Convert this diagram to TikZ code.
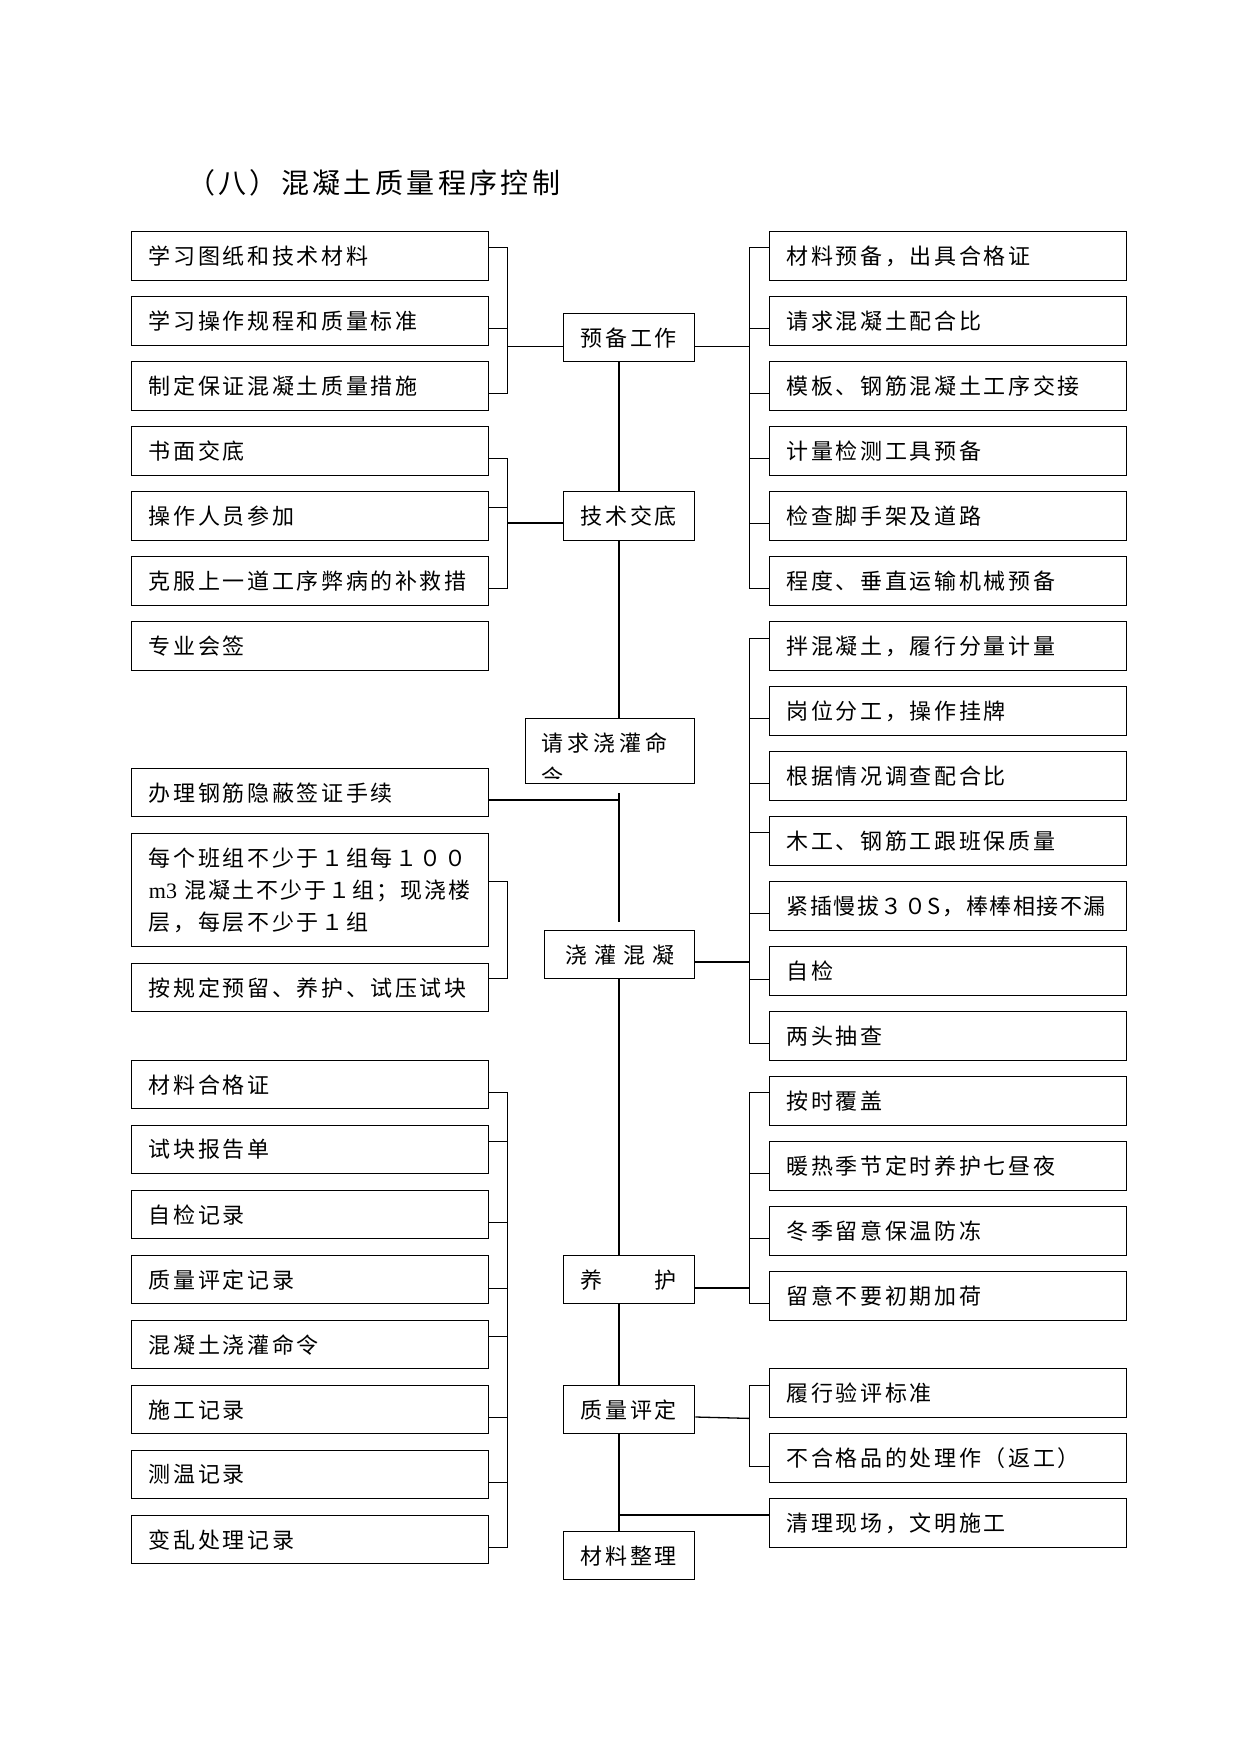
\documentclass[tikz,border=0pt]{standalone}
\usepackage{fontspec}
\setmainfont{Liberation Serif}
\newfontfamily\cjk[LetterSpace=12]{Noto Sans CJK SC}
\newfontfamily\lat{Liberation Serif}
\usetikzlibrary{calc}
\begin{document}
\begin{tikzpicture}[x=1pt,y=-1pt,
  box/.style={draw, line width=1.4pt, inner sep=0pt, anchor=north west, minimum height=49pt, font=\cjk\fontsize{22}{26}\selectfont},
  lbox/.style={box, minimum width=356.5pt, text width=322pt, align=left},
  rbox/.style={box, minimum width=357pt, text width=322pt, align=left},
  cbox/.style={box, minimum width=131.5pt, minimum height=48pt, align=center},
  link/.style={line width=1.3pt},
  tick/.style={line width=1pt}]
\fill[white] (0,0) rectangle (1241,1754);
\useasboundingbox (0,0) rectangle (1241,1754);

\node[anchor=west, inner sep=0pt, font=\cjk\fontsize{28}{32}\selectfont] (title) at (187,183) {（八）混凝土质量程序控制};

% left column
\node[lbox] (l1) at (131,231) {学习图纸和技术材料};
\node[lbox] (l2) at (131,296) {学习操作规程和质量标准};
\node[lbox] (l3) at (131,361) {制定保证混凝土质量措施};
\node[lbox] (l4) at (131,426) {书面交底};
\node[lbox] (l5) at (131,491) {操作人员参加};
\node[lbox] (l6) at (131,556) {克服上一道工序弊病的补救措};
\node[lbox] (l7) at (131,621) {专业会签};
\node[lbox, minimum height=48pt] (l8) at (131,768) {办理钢筋隐蔽签证手续};
\node[lbox, minimum height=113pt, font=\cjk\fontsize{22}{32}\selectfont] (l9) at (131,833) {\mbox{每个班组不少于１组每１００}\\\mbox{{\lat m3} {\addfontfeature{LetterSpace=9}混凝土不少于１组；现浇楼}}\\\mbox{层，每层不少于１组}};
\node[lbox, minimum height=48pt] (l10) at (131,963) {按规定预留、养护、试压试块};
\node[lbox, minimum height=48pt] (l11) at (131,1060) {材料合格证};
\node[lbox, minimum height=48pt] (l12) at (131,1125) {试块报告单};
\node[lbox, minimum height=48pt] (l13) at (131,1190) {自检记录};
\node[lbox, minimum height=48pt] (l14) at (131,1255) {质量评定记录};
\node[lbox, minimum height=48pt] (l15) at (131,1320) {混凝土浇灌命令};
\node[lbox, minimum height=48pt] (l16) at (131,1385) {施工记录};
\node[lbox, minimum height=48pt] (l17) at (131,1450) {测温记录};
\node[lbox, minimum height=48pt] (l18) at (131,1515) {变乱处理记录};

% right column
\node[rbox] (r1) at (768.5,231) {材料预备，出具合格证};
\node[rbox] (r2) at (768.5,296) {请求混凝土配合比};
\node[rbox] (r3) at (768.5,361) {模板、钢筋混凝土工序交接};
\node[rbox] (r4) at (768.5,426) {计量检测工具预备};
\node[rbox] (r5) at (768.5,491) {检查脚手架及道路};
\node[rbox] (r6) at (768.5,556) {程度、垂直运输机械预备};
\node[rbox] (r7) at (768.5,621) {拌混凝土，履行分量计量};
\node[rbox] (r8) at (768.5,686) {岗位分工，操作挂牌};
\node[rbox] (r9) at (768.5,751) {根据情况调查配合比};
\node[rbox] (r10) at (768.5,816) {木工、钢筋工跟班保质量};
\node[rbox, font=\cjk\fontsize{22}{26}\selectfont\addfontfeature{LetterSpace=7}] (r11) at (768.5,881) {\mbox{紧插慢拔３０S，棒棒相接不漏}};
\node[rbox] (r12) at (768.5,946) {自检};
\node[rbox] (r13) at (768.5,1011) {两头抽查};
\node[rbox] (r14) at (768.5,1076) {按时覆盖};
\node[rbox] (r15) at (768.5,1141) {暖热季节定时养护七昼夜};
\node[rbox] (r16) at (768.5,1206) {冬季留意保温防冻};
\node[rbox] (r17) at (768.5,1271) {留意不要初期加荷};
\node[rbox] (r18) at (768.5,1368) {履行验评标准};
\node[rbox] (r19) at (768.5,1433) {不合格品的处理作（返工）};
\node[rbox] (r20) at (768.5,1498) {清理现场，文明施工};

% centre column
\node[cbox] (c1) at (562.5,313) {预备工作};
\node[cbox, minimum height=49pt] (c2) at (562.5,491) {技术交底};
\node[box, minimum width=169pt, minimum height=65pt] (c3) at (525,718) {};
\node[anchor=west, inner sep=0pt, font=\cjk\fontsize{22}{26}\selectfont] (c3a) at (541,743) {请\hspace{4pt}求\hspace{4pt}浇\hspace{4pt}灌\hspace{4pt}命};
\begin{scope}
\clip (526,719) rectangle (693,778);
\node[anchor=west, inner sep=0pt, font=\cjk\fontsize{22}{26}\selectfont] (c3b) at (541,777) {令};
\end{scope}
\node[box, minimum width=150pt, minimum height=48pt, align=center] (c4) at (544,930) {浇\hspace{7pt}灌\hspace{7pt}混\hspace{7pt}凝};
\node[cbox] (c5) at (562.5,1255) {养　　护};
\node[cbox] (c6) at (562.5,1385) {质量评定};
\node[cbox] (c7) at (562.5,1531) {材料整理};

% trunk
\coordinate (T) at (619,0);
\draw[link] (c1.south -| T) -- (c2.north -| T);
\draw[link] (c2.south -| T) -- (c3.north -| T);
\draw[link, shorten <=9pt, shorten >=8pt] (c3.south -| T) -- (c4.north -| T);
\draw[link] (c4.south -| T) -- (c5.north -| T);
\draw[link] (c5.south -| T) -- (c6.north -| T);
\draw[link] (c6.south -| T) -- (c7.north -| T);

% left group 1
\draw[tick] ($(l1.north east)+(0,16)$) -| ($(l3.north east)+(19,32)$) -- ($(l3.north east)+(0,32)$);
\draw[tick] ($(l2.north east)+(0,32)$) -- ++(19,0);
\draw[link] ($(l2.south east)+(19,0)$) -- (c1.west |- l2.south);
% right group 1
\draw[tick] ($(r1.north west)+(0,16)$) -| ($(r6.north west)+(-19,32)$) -- ($(r6.north west)+(0,32)$);
\foreach \r in {r2,r3,r4,r5} \draw[tick] ($(\r.north west)+(0,32)$) -- ++(-19,0);
\draw[link] (c1.east |- r2.south west) -- ($(r2.south west)+(-19,0)$);

% left group 2
\draw[tick] ($(l4.north east)+(0,32)$) -| ($(l6.north east)+(19,32)$) -- ($(l6.north east)+(0,32)$);
\draw[tick] ($(l5.north east)+(0,16)$) -- ++(19,0);
\draw[link] ($(l5.north east)+(19,32)$) -- ($(c2.north west)+(0,32)$);

% l8 to trunk
\coordinate (k8) at ($(l8.north east)+(0,32)$);
\draw[link] (k8) -- (k8 -| T);

% l9 / l10 bracket
\draw[tick] ($(l9.north east)+(0,48)$) -| ($(l10.north east)+(19,15)$) -- ($(l10.north east)+(0,15)$);

% right group 2
\draw[tick] ($(r7.north west)+(0,17)$) -| ($(r13.north west)+(-19,32)$) -- ($(r13.north west)+(0,32)$);
\draw[tick] ($(r8.north west)+(0,32)$) -- ++(-19,0);
\draw[tick] ($(r9.north west)+(0,32)$) -- ++(-19,0);
\draw[tick] ($(r10.north west)+(0,16)$) -- ++(-19,0);
\draw[tick] ($(r11.north west)+(0,32)$) -- ++(-19,0);
\draw[tick] ($(r12.north west)+(0,33)$) -- ++(-19,0);
\draw[link] ($(c4.north east)+(0,32)$) -- ($(r12.north west)+(-19,16)$);

% left group 3
\draw[tick] ($(l11.north east)+(0,32)$) -| ($(l18.north east)+(19,32)$) -- ($(l18.north east)+(0,32)$);
\draw[tick] ($(l12.north east)+(0,16)$) -- ++(19,0);
\draw[tick] ($(l13.north east)+(0,32)$) -- ++(19,0);
\draw[tick] ($(l14.north east)+(0,33)$) -- ++(19,0);
\draw[tick] ($(l15.north east)+(0,16)$) -- ++(19,0);
\draw[tick] ($(l16.north east)+(0,32)$) -- ++(19,0);
\draw[tick] ($(l17.north east)+(0,32)$) -- ++(19,0);

% right group 3
\draw[tick] ($(r14.north west)+(0,16)$) -| ($(r17.north west)+(-19,32)$) -- ($(r17.north west)+(0,32)$);
\draw[tick] ($(r15.north west)+(0,32)$) -- ++(-19,0);
\draw[tick] ($(r16.north west)+(0,32)$) -- ++(-19,0);
\draw[link] ($(c5.north east)+(0,33)$) -- ($(r17.north west)+(-19,17)$);

% right group 4
\draw[tick] ($(r18.north west)+(0,17)$) -| ($(r19.north west)+(-19,33)$) -- ($(r19.north west)+(0,33)$);
\draw[link] ($(c6.north east)+(0,32)$) -- ($(r18.south west)+(-19,0)$);

% r20 from trunk
\coordinate (k20) at ($(r20.north west)+(0,17)$);
\draw[link] (k20 -| T) -- (k20);
\end{tikzpicture}
\end{document}
